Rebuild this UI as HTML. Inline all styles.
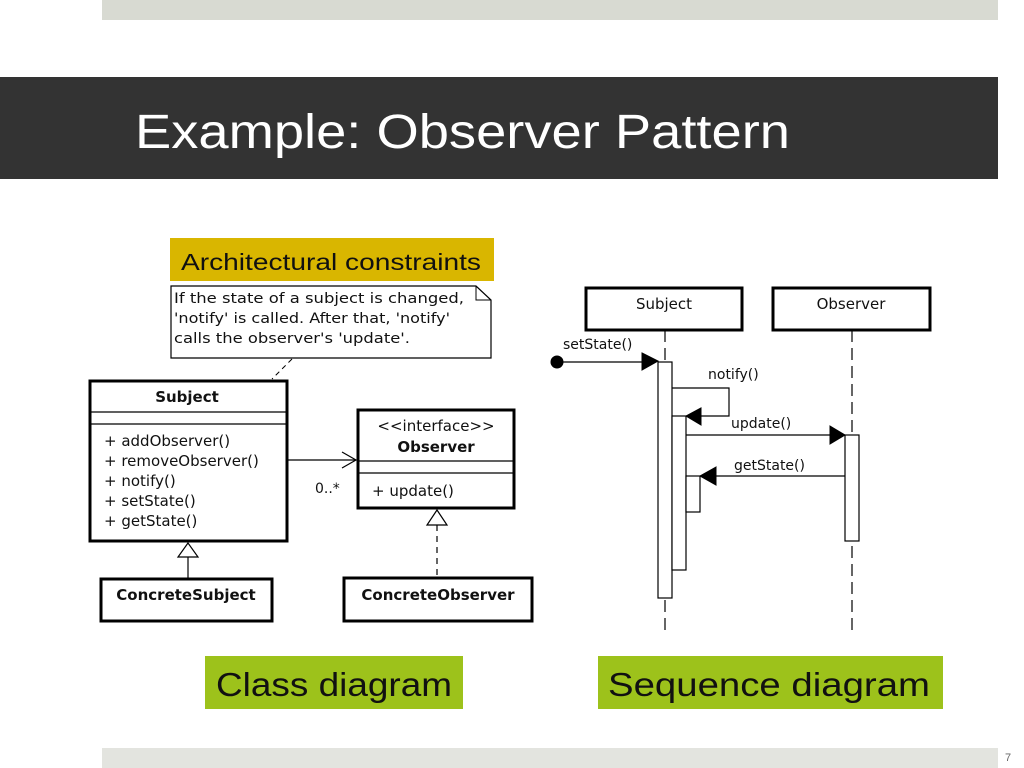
<!DOCTYPE html>
<html><head><meta charset="utf-8"><style>
html,body{margin:0;padding:0;background:#fff;}
svg{display:block;}
</style></head><body>
<svg width="1024" height="768" viewBox="0 0 1024 768" xmlns="http://www.w3.org/2000/svg" font-family="'Liberation Sans', 'DejaVu Sans', sans-serif">
<rect x="102" y="0" width="896" height="20" fill="#d8dad2"/>
<rect x="0" y="77" width="998" height="102" fill="#333333"/>
<text x="135" y="148" font-size="48" fill="#fff" textLength="655" lengthAdjust="spacingAndGlyphs">Example: Observer Pattern</text>
<rect x="102" y="748" width="896" height="20" fill="#e3e4df"/>
<text x="1005" y="761" font-size="11" fill="#666">7</text>

<rect x="170" y="238" width="324" height="43" fill="#d9b600"/>
<text x="181" y="270" font-size="23" fill="#111" textLength="300" lengthAdjust="spacingAndGlyphs">Architectural constraints</text>

<rect x="205" y="656" width="258" height="53" fill="#9dc21b"/>
<text x="216" y="696" font-size="33" fill="#111" textLength="236" lengthAdjust="spacingAndGlyphs">Class diagram</text>
<rect x="598" y="656" width="345" height="53" fill="#9dc21b"/>
<text x="608" y="696" font-size="33" fill="#111" textLength="322" lengthAdjust="spacingAndGlyphs">Sequence diagram</text>

<g stroke="#000" fill="none">
<path d="M171 286 H476 L491 300 V358 H171 Z" fill="#fff" stroke-width="1.2"/>
<path d="M476 286 V300 H491" stroke-width="1"/>
<line x1="292" y1="359" x2="272" y2="379" stroke-dasharray="5,4"/>
<rect x="90" y="381" width="197" height="160" fill="#fff" stroke-width="3"/>
<line x1="90" y1="412" x2="287" y2="412" stroke-width="1.2"/>
<line x1="90" y1="424" x2="287" y2="424" stroke-width="1.2"/>
<rect x="358" y="410" width="156" height="98" fill="#fff" stroke-width="3"/>
<line x1="358" y1="461" x2="514" y2="461" stroke-width="1.2"/>
<line x1="358" y1="473" x2="514" y2="473" stroke-width="1.2"/>
<line x1="288" y1="460" x2="356" y2="460" stroke-width="1.2"/>
<path d="M342 452 L356 460 L342 468" stroke-width="1.2"/>
<path d="M188 543 L178 557 H198 Z" fill="#fff" stroke-width="1.2"/>
<line x1="188" y1="557" x2="188" y2="578" stroke-width="1.2"/>
<rect x="101" y="579" width="171" height="42" fill="#fff" stroke-width="3"/>
<path d="M437 510 L427 525 H447 Z" fill="#fff" stroke-width="1.2"/>
<line x1="437" y1="525" x2="437" y2="577" stroke-dasharray="6,5" stroke-width="1.2"/>
<rect x="344" y="578" width="188" height="43" fill="#fff" stroke-width="3"/>

<rect x="586" y="288" width="156" height="42" fill="#fff" stroke-width="3"/>
<rect x="773" y="288" width="157" height="42" fill="#fff" stroke-width="3"/>
<line x1="665" y1="330" x2="665" y2="632" stroke-dasharray="12,6" stroke-width="1.2"/>
<line x1="852" y1="330" x2="852" y2="632" stroke-dasharray="12,6" stroke-width="1.2"/>
<circle cx="557" cy="362" r="6" fill="#000"/>
<line x1="557" y1="362" x2="645" y2="362" stroke-width="1.2"/>
<path d="M642 353 L658 361 L642 370 Z" fill="#000"/>
<rect x="658" y="362" width="14" height="236" fill="#fff" stroke-width="1.2"/>
<path d="M672 388 H729 V416 H700" stroke-width="1.2"/>
<rect x="672" y="416" width="14" height="154" fill="#fff" stroke-width="1.2"/>
<path d="M701 408 L686 416 L701 425 Z" fill="#000"/>
<line x1="686" y1="435" x2="833" y2="435" stroke-width="1.2"/>
<path d="M830 426 L845 435 L830 444 Z" fill="#000"/>
<rect x="845" y="435" width="14" height="106" fill="#fff" stroke-width="1.2"/>
<line x1="845" y1="476" x2="714" y2="476" stroke-width="1.2"/>
<rect x="686" y="476" width="14" height="36" fill="#fff" stroke-width="1.2"/>
<path d="M716 467 L700 476 L716 485 Z" fill="#000"/>
</g>

<g font-family="'DejaVu Sans', sans-serif" fill="#111">
<text x="174" y="303" font-size="14" textLength="290" lengthAdjust="spacingAndGlyphs">If the state of a subject is changed,</text>
<text x="174" y="323" font-size="14" textLength="276" lengthAdjust="spacingAndGlyphs">'notify' is called. After that, 'notify'</text>
<text x="174" y="343" font-size="14" textLength="236" lengthAdjust="spacingAndGlyphs">calls the observer's 'update'.</text>
<text x="187" y="402" font-size="15" font-weight="bold" text-anchor="middle">Subject</text>
<text x="104" y="446" font-size="15">+ addObserver()</text>
<text x="104" y="466" font-size="15">+ removeObserver()</text>
<text x="104" y="486" font-size="15">+ notify()</text>
<text x="104" y="506" font-size="15">+ setState()</text>
<text x="104" y="526" font-size="15">+ getState()</text>
<text x="436" y="431" font-size="15" text-anchor="middle">&lt;&lt;interface&gt;&gt;</text>
<text x="436" y="452" font-size="15" font-weight="bold" text-anchor="middle">Observer</text>
<text x="372" y="496" font-size="15">+ update()</text>
<text x="315" y="493" font-size="14">0..*</text>
<text x="186" y="600" font-size="15" font-weight="bold" text-anchor="middle">ConcreteSubject</text>
<text x="438" y="600" font-size="15" font-weight="bold" text-anchor="middle">ConcreteObserver</text>
<text x="664" y="309" font-size="15" text-anchor="middle">Subject</text>
<text x="851" y="309" font-size="15" text-anchor="middle">Observer</text>
<text x="563" y="349" font-size="14">setState()</text>
<text x="708" y="379" font-size="14">notify()</text>
<text x="731" y="428" font-size="14">update()</text>
<text x="734" y="470" font-size="14">getState()</text>
</g>
</svg>
</body></html>
